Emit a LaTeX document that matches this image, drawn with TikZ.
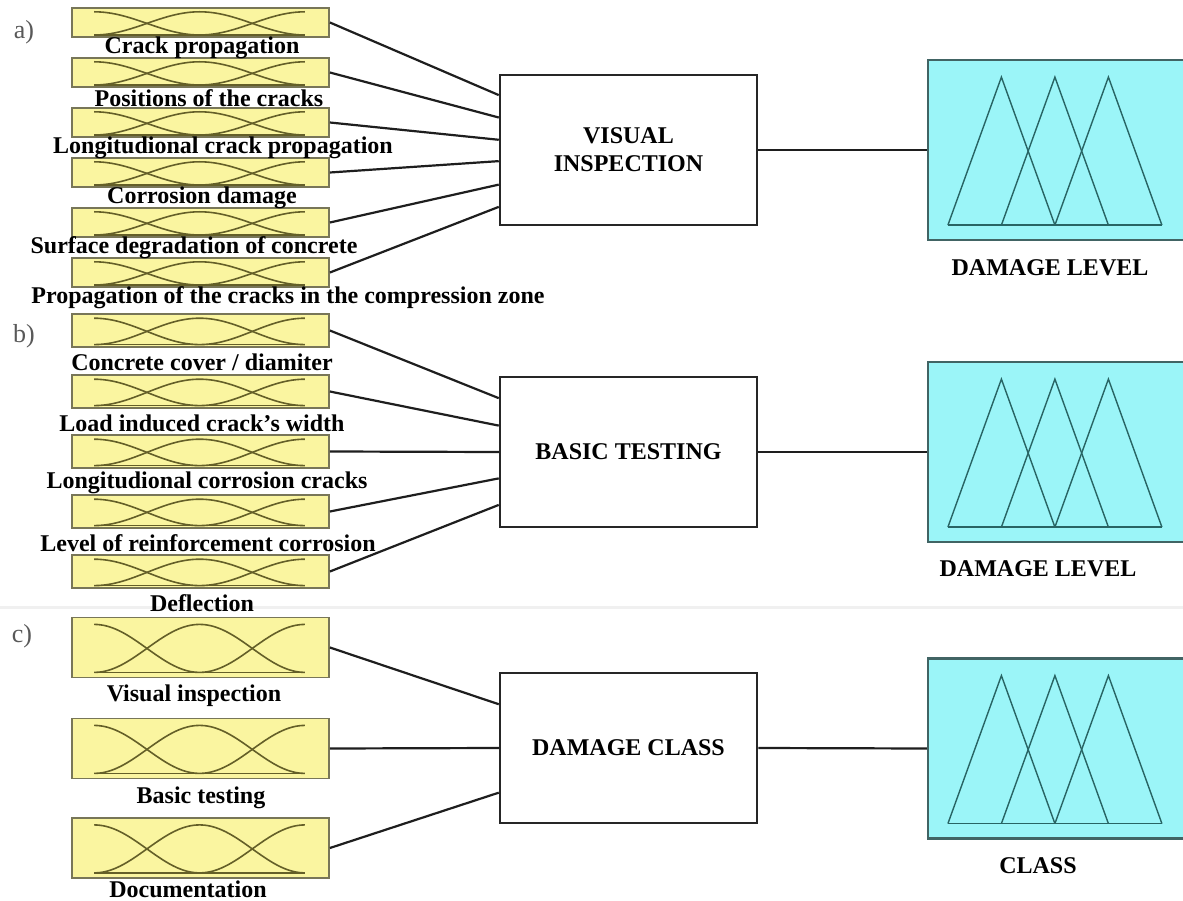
\documentclass[tikz,border=0pt]{standalone}
\usepackage{fontspec}
\setmainfont{Liberation Serif}
\usetikzlibrary{calc}
\definecolor{yfill}{RGB}{250,245,160}
\definecolor{yedge}{RGB}{120,118,88}
\definecolor{ycurve}{RGB}{100,95,40}
\definecolor{cfill}{RGB}{155,245,248}
\definecolor{cedge}{RGB}{65,100,100}
\definecolor{ccurve}{RGB}{40,100,100}
\definecolor{wirec}{RGB}{30,30,30}
\tikzset{
 ybox/.style={draw=yedge, fill=yfill, line width=1.8pt, minimum width=257pt, inner sep=0pt, rectangle},
 mfc/.style={draw=ycurve, line width=1.6pt},
 lbl/.style={font=\fontsize{24}{26}\selectfont\bfseries, inner sep=0pt},
 proc/.style={draw=black!85, line width=2.5pt, fill=white, minimum width=257pt, minimum height=150pt, inner sep=0pt, align=center, font=\fontsize{24}{28}\selectfont\bfseries},
 obox/.style={draw=cedge, fill=cfill, line width=2.2pt, minimum width=258pt, minimum height=180pt, inner sep=0pt},
 tri/.style={draw=ccurve, line width=1.4pt, line join=miter},
 wire/.style={draw=wirec, line width=2.2pt},
 sec/.style={font=\fontsize{26}{28}\selectfont, text=black!65, inner sep=0pt},
}
\newcommand\mfbox[4]{%
 \node[ybox, minimum height=#4pt] (#1) at (#2,#3) {};
 \begin{scope}[shift={(#1.south west)}, x={(257pt,0pt)}, y={(0pt,#4pt)}]
  \draw[mfc] plot[domain=0.09:0.5, samples=25, smooth] (\x,{0.1+0.8*(0.5+0.5*cos(180*(\x-0.09)/0.41))});
  \draw[mfc] plot[domain=0.09:0.91, samples=41, smooth] (\x,{0.1+0.8*(0.5+0.5*cos(180*(\x-0.5)/0.41))});
  \draw[mfc] plot[domain=0.5:0.91, samples=25, smooth] (\x,{0.1+0.8*(0.5-0.5*cos(180*(\x-0.5)/0.41))});
  \draw[mfc] (0.09,0.1) -- (0.91,0.1);
 \end{scope}
}
\newcommand\mftri[1]{%
 \begin{scope}[shift={(#1.south west)}, x=1pt, y=-1pt]
  \draw[tri] (21,-16) -- (74.5,-164) -- (128,-16);
  \draw[tri] (74.5,-16) -- (128,-164) -- (181.5,-16);
  \draw[tri] (128,-16) -- (181.5,-164) -- (235,-16);
  \draw[tri] (21,-16) -- (235,-16);
 \end{scope}
}
\begin{document}
\begin{tikzpicture}[x=1pt,y=-1pt]
\useasboundingbox (0,0) rectangle (1183,901);
\fill[white] (0,0) rectangle (1183,901);
\draw[black!6, line width=3pt] (0,607) -- (1183,607);

\node[sec] (la) at (24,32) {a)};
\node[sec] (lb) at (24,336) {b)};
\node[sec] (lc) at (22,636) {c)};

% ---- a) inputs
\mfbox{a1}{200.5}{22.5}{29}
\mfbox{a2}{200.5}{72.5}{29}
\mfbox{a3}{200.5}{122.5}{29}
\mfbox{a4}{200.5}{172.5}{29}
\mfbox{a5}{200.5}{222.5}{29}
\mfbox{a6}{200.5}{272.5}{29}
\node[lbl] (a1l) at (202,48) {Crack propagation};
\node[lbl] (a2l) at (209,98) {Positions of the cracks};
\node[lbl] (a3l) at (223,148) {Longitudional crack propagation};
\node[lbl] (a4l) at (202,198) {Corrosion damage};
\node[lbl] (a5l) at (194,248) {Surface degradation of concrete};
\node[lbl] (a6l) at (288,298) {Propagation of the cracks in the compression zone};

% ---- b) inputs
\mfbox{b1}{200.5}{330.5}{33}
\mfbox{b2}{200.5}{391.5}{33}
\mfbox{b3}{200.5}{451.5}{33}
\mfbox{b4}{200.5}{511.5}{33}
\mfbox{b5}{200.5}{571.5}{33}
\node[lbl] (b1l) at (202,362) {Concrete cover / diamiter};
\node[lbl] (b2l) at (202,423) {Load induced crack’s width};
\node[lbl] (b3l) at (207,483) {Longitudional corrosion cracks};
\node[lbl] (b4l) at (208,543) {Level of reinforcement corrosion};
\node[lbl] (b5l) at (202,603) {Deflection};

% ---- c) inputs
\mfbox{c1}{200.5}{647.5}{60}
\mfbox{c2}{200.5}{748.5}{60}
\mfbox{c3}{200.5}{848}{60}
\node[lbl] (c1l) at (194,696) {Visual inspection};
\node[lbl] (c2l) at (201,798) {Basic testing};
\node[lbl] (c3l) at (188,889) {Documentation};

% ---- processing boxes
\node[proc] (vi) at (628.5,150) {VISUAL\\INSPECTION};
\node[proc] (bt) at (628.5,452) {BASIC TESTING};
\node[proc] (dc) at (628.5,748) {DAMAGE CLASS};

% ---- output boxes
\node[obox] (oa) at (1057,150) {};
\node[obox] (ob) at (1057,452) {};
\node[obox] (oc) at (1057,748.5) {};
\mftri{oa}
\mftri{ob}
\mftri{oc}
\node[lbl] (oal) at (1050,268) {DAMAGE LEVEL};
\node[lbl] (obl) at (1038,569) {DAMAGE LEVEL};
\node[lbl] (ocl) at (1038,866) {CLASS};

% ---- connectors
\draw[wire] (a1.east) -- ($(vi.north west)!0.14!(vi.south west)$);
\draw[wire] (a2.east) -- ($(vi.north west)!0.287!(vi.south west)$);
\draw[wire] (a3.east) -- ($(vi.north west)!0.433!(vi.south west)$);
\draw[wire] (a4.east) -- ($(vi.north west)!0.573!(vi.south west)$);
\draw[wire] (a5.east) -- ($(vi.north west)!0.727!(vi.south west)$);
\draw[wire] (a6.east) -- ($(vi.north west)!0.873!(vi.south west)$);

\draw[wire] (b1.east) -- ($(bt.north west)!0.147!(bt.south west)$);
\draw[wire] (b2.east) -- ($(bt.north west)!0.327!(bt.south west)$);
\draw[wire] (b3.east) -- ($(bt.north west)!0.5!(bt.south west)$);
\draw[wire] (b4.east) -- ($(bt.north west)!0.673!(bt.south west)$);
\draw[wire] (b5.east) -- ($(bt.north west)!0.847!(bt.south west)$);

\draw[wire] (c1.east) -- ($(dc.north west)!0.213!(dc.south west)$);
\draw[wire] (c2.east) -- ($(dc.north west)!0.5!(dc.south west)$);
\draw[wire] (c3.east) -- ($(dc.north west)!0.793!(dc.south west)$);

\draw[wire] (vi.east) -- (oa.west);
\draw[wire] (bt.east) -- (ob.west);
\draw[wire] (dc.east) -- (oc.west);
\end{tikzpicture}
\end{document}
